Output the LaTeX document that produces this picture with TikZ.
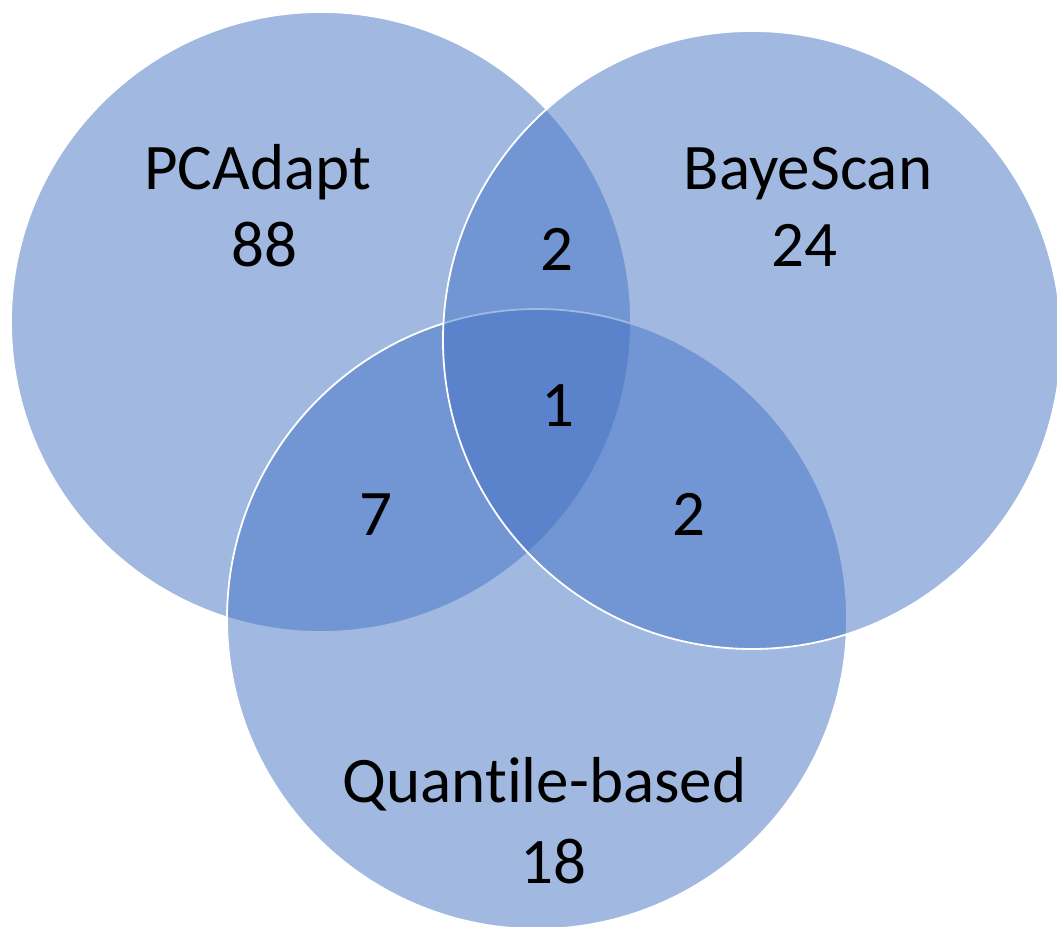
\documentclass[tikz,border=0pt]{standalone}
\usepackage{fontspec}
\setmainfont{Carlito}[Ligatures=NoCommon]
\definecolor{vennblue}{HTML}{4472C4}
\begin{document}
\begin{tikzpicture}[x=1pt,y=-1pt,
  venn/.style={fill=vennblue,fill opacity=0.5,draw=white,line width=1.8pt},
  lbl/.style={anchor=base,inner sep=0pt,font=\fontsize{65}{78}\selectfont,text=black}]
\useasboundingbox (0,0) rectangle (1057,926);
\path[venn] (321,322) circle[radius=310pt];
\path[venn] (537,619) circle[radius=310pt];
\path[venn] (752,340) circle[radius=309pt];
\node[lbl] (pca) at (257.5,189) {PCAdapt};
\node[lbl] (pcan) at (264,266) {88};
\node[lbl] (bay) at (808,189) {BayeScan};
\node[lbl] (bayn) at (804,266) {24};
\node[lbl] (qua) at (544.5,802) {Quantile-based};
\node[lbl] (quan) at (553,883) {18};
\node[lbl] (ab) at (557,270) {2};
\node[lbl] (abc) at (558,426) {1};
\node[lbl] (ac) at (376,535) {7};
\node[lbl] (bc) at (689,535) {2};
\end{tikzpicture}
\end{document}
